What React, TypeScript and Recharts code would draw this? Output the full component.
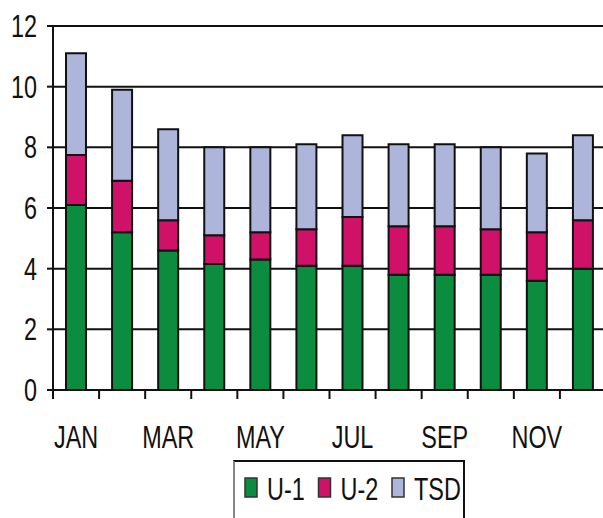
import React from "react";
import { Bar, BarChart, CartesianGrid, Legend, XAxis, YAxis } from "recharts";

const months = ["JAN", "FEB", "MAR", "APR", "MAY", "JUN", "JUL", "AUG", "SEP", "OCT", "NOV", "DEC"];
const u1 = [6.1, 5.2, 4.6, 4.15, 4.3, 4.1, 4.1, 3.8, 3.8, 3.8, 3.6, 4.0];
const u2 = [1.65, 1.7, 1.0, 0.95, 0.9, 1.2, 1.6, 1.6, 1.6, 1.5, 1.6, 1.6];
const tsd = [3.35, 3.0, 3.0, 2.9, 2.8, 2.8, 2.7, 2.7, 2.7, 2.7, 2.6, 2.8];
const yTicks = [0, 2, 4, 6, 8, 10, 12];

const data = months.map((m, i) => ({ month: m, u1: u1[i], u2: u2[i], tsd: tsd[i] }));

const FONT = '"Liberation Sans", Arial, sans-serif';
const GREEN = "#0b8c3f";
const PINK = "#cf1268";
const LAVENDER = "#adb5db";

const CHART_W = 615;
const CHART_H = 518;
const MARGIN = { top: 26, right: 9, bottom: 68, left: 8 };
const Y_W = 45;
const BAND = (CHART_W - MARGIN.left - MARGIN.right - Y_W) / months.length;

// the original uses a condensed face, so squeeze the text horizontally
function NarrowText({ x, y, anchor, size, children }: any) {
  return (
    <text
      transform={`translate(${x},${y}) scale(0.78,1.05)`}
      textAnchor={anchor}
      fontSize={size}
      fill="#111"
      fontFamily={FONT}
    >
      {children}
    </text>
  );
}

function MonthTick(props: any) {
  const { x, y, payload, index } = props;
  const bx = x - BAND / 2;
  return (
    <g>
      <line x1={bx} y1={y} x2={bx} y2={y + 9} stroke="#111" strokeWidth={2} />
      {index % 2 === 0 && (
        <NarrowText x={x} y={y + 58} anchor="middle" size={30}>
          {payload.value}
        </NarrowText>
      )}
    </g>
  );
}

function ValueTick(props: any) {
  const { x, y, payload } = props;
  return (
    <NarrowText x={x} y={y + 11} anchor="end" size={30}>
      {payload.value}
    </NarrowText>
  );
}

const legendItems = [
  { label: "U-1", color: GREEN },
  { label: "U-2", color: PINK },
  { label: "TSD", color: LAVENDER },
];

function LegendBox() {
  return (
    <div
      style={{
        boxSizing: "border-box",
        width: 232,
        height: 70,
        borderTop: "2px solid #111",
        borderRight: "2px solid #111",
        borderBottom: "2px solid #111",
        borderLeft: "2px solid #888",
      }}
    >
      <svg width={228} height={66} style={{ display: "block" }}>
        {legendItems.map((it, i) => (
          <g key={it.label} transform={`translate(${10 + i * 73.5},0)`}>
            <rect x={0} y={16} width={12} height={19} fill={it.color} stroke="#333" strokeWidth={1.5} />
            <NarrowText x={22} y={38} anchor="start" size={30}>
              {it.label}
            </NarrowText>
          </g>
        ))}
      </svg>
    </div>
  );
}

export default function App() {
  return (
    <div
      style={{
        position: "absolute",
        left: 0,
        top: 0,
        width: 603,
        height: 518,
        overflow: "hidden",
        background: "#fff",
        fontFamily: FONT,
      }}
    >
      <BarChart width={CHART_W} height={CHART_H} data={data} margin={MARGIN} barSize={20}>
        <CartesianGrid vertical={false} stroke="#111" strokeWidth={2} />
        <XAxis
          dataKey="month"
          interval={0}
          tickLine={false}
          tickSize={0}
          tickMargin={0}
          height={60}
          axisLine={{ stroke: "#111", strokeWidth: 2 }}
          tick={<MonthTick />}
        />
        <YAxis
          domain={[0, 12]}
          ticks={yTicks}
          width={Y_W}
          tickSize={6}
          tickMargin={10}
          axisLine={{ stroke: "#111", strokeWidth: 2 }}
          tickLine={{ stroke: "#111", strokeWidth: 2 }}
          tick={<ValueTick />}
        />
        <Legend
          layout="horizontal"
          verticalAlign="middle"
          align="center"
          wrapperStyle={{ left: 233, top: 460, width: 232, height: 70 }}
          content={<LegendBox />}
        />
        <Bar dataKey="u1" name="U-1" stackId="a" fill={GREEN} stroke="#111" strokeWidth={2} isAnimationActive={false} />
        <Bar dataKey="u2" name="U-2" stackId="a" fill={PINK} stroke="#111" strokeWidth={2} isAnimationActive={false} />
        <Bar dataKey="tsd" name="TSD" stackId="a" fill={LAVENDER} stroke="#111" strokeWidth={2} isAnimationActive={false} />
      </BarChart>
    </div>
  );
}
